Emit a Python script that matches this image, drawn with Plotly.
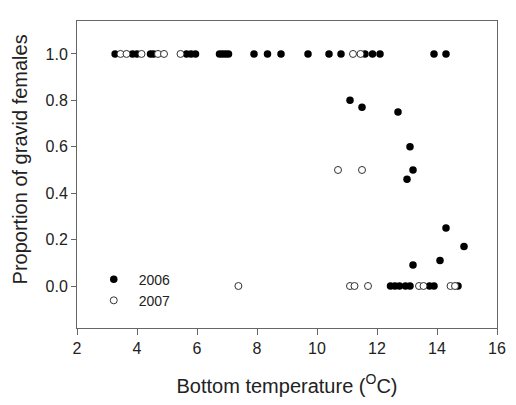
import plotly.graph_objects as go

# bottom temperature (deg C) and proportion of gravid females
t2006 = [3.27, 3.85, 4.0, 4.45, 4.55, 5.65, 5.8, 5.95, 6.75, 6.85, 6.95, 7.05,
         7.9, 8.35, 8.8, 9.7, 10.4, 10.8, 11.6, 11.85, 12.1, 13.9, 14.3,
         11.1, 11.5, 12.7, 13.1, 13.2, 13.0, 14.3, 14.9, 14.1, 13.2,
         12.45, 12.6, 12.75, 12.95, 13.1, 13.75, 13.9, 14.7]
p2006 = [1.0] * 23 + [0.8, 0.77, 0.75, 0.6, 0.5, 0.46, 0.25, 0.17, 0.11, 0.09] + [0.0] * 8

t2007 = [3.45, 3.65, 4.15, 4.7, 4.9, 5.45, 11.2, 11.45,
         10.7, 11.5,
         7.38, 11.1, 11.25, 11.7, 13.4, 13.55, 14.45, 14.6]
p2007 = [1.0] * 8 + [0.5, 0.5] + [0.0] * 8

x_ticks = [2, 4, 6, 8, 10, 12, 14, 16]
y_ticks = [0.0, 0.2, 0.4, 0.6, 0.8, 1.0]

FONT = "Liberation Sans, Arial, sans-serif"
TEXT = "#222222"
AXIS = "#666666"

fig = go.Figure()
fig.add_trace(go.Scatter(
    x=t2006, y=p2006, mode="markers", name="2006",
    marker=dict(symbol="circle", size=7.5, color="black", line=dict(width=0))
))
fig.add_trace(go.Scatter(
    x=t2007, y=p2007, mode="markers", name="2007",
    marker=dict(symbol="circle", size=7, color="white", line=dict(color="#333333", width=1))
))

# the page body adds an 8px margin, so the figure is 8px smaller than the window
fig.update_layout(
    width=508, height=397,
    margin=dict(l=69, r=10, t=13, b=77),
    paper_bgcolor="white", plot_bgcolor="white",
    font=dict(family=FONT, color=TEXT, size=16),
    showlegend=True,
    legend=dict(
        x=0.028, y=0.21, xanchor="left", yanchor="top",
        bgcolor="rgba(0,0,0,0)", font=dict(size=14, color=TEXT),
        tracegroupgap=0, itemsizing="trace", itemwidth=40
    ),
)
fig.update_xaxes(
    range=[2, 16], tickvals=x_ticks, ticktext=[str(v) for v in x_ticks],
    showline=True, linecolor=AXIS, linewidth=1, mirror=True,
    ticks="outside", ticklen=6, tickcolor=AXIS,
    showgrid=False, zeroline=False,
    title=dict(text="Bottom temperature (<sup>O</sup>C)", font=dict(size=20), standoff=22),
)
fig.update_yaxes(
    range=[-0.181, 1.142], tickvals=y_ticks, ticktext=["%.1f" % v for v in y_ticks],
    showline=True, linecolor=AXIS, linewidth=1, mirror=True,
    ticks="outside", ticklen=5, tickcolor=AXIS,
    showgrid=False, zeroline=False,
)
fig.add_annotation(
    text="Proportion of gravid females", textangle=-90,
    xref="paper", yref="paper", x=-0.135, y=0.55,
    xanchor="center", yanchor="middle", showarrow=False,
    font=dict(size=20, color=TEXT),
)

fig.write_html("out.html")
